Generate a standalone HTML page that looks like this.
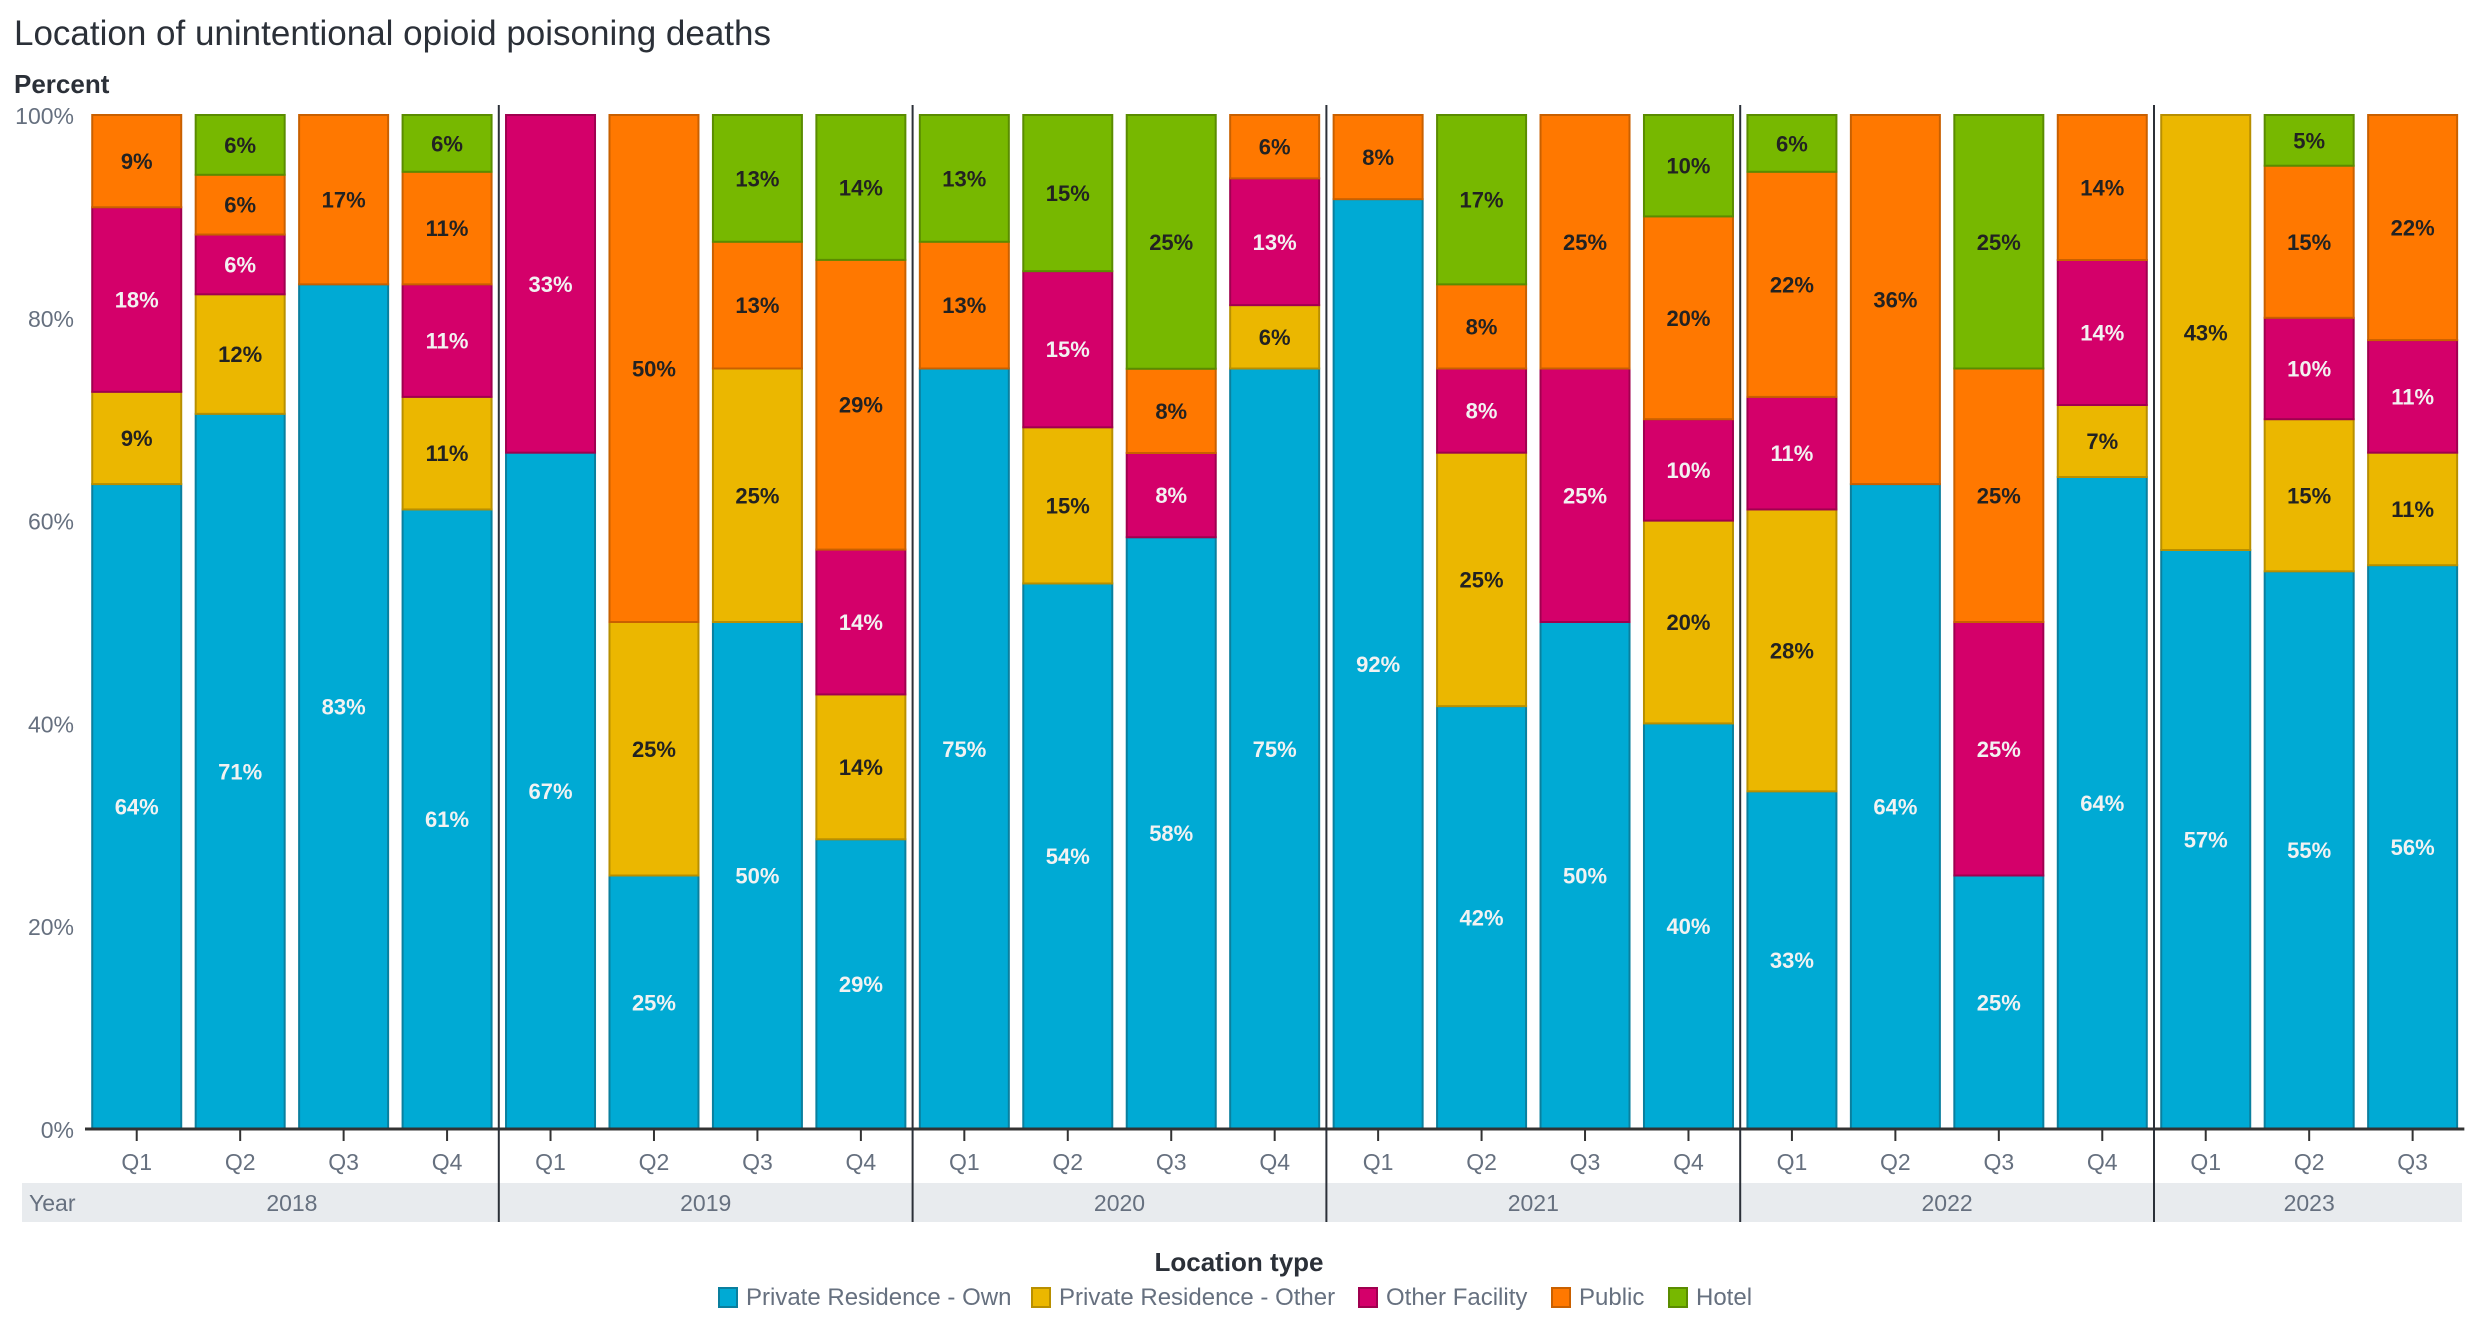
<!DOCTYPE html>
<html><head><meta charset="utf-8"><style>
html,body{margin:0;padding:0;background:#fff;}
svg{display:block;font-family:"Liberation Sans",sans-serif;}
</style></head><body>
<svg id="chart" width="2478" height="1334" viewBox="0 0 2478 1334">
<text x="14" y="45" font-size="35" fill="#2b3038">Location of unintentional opioid poisoning deaths</text>
<text x="14" y="93" font-size="26" font-weight="bold" fill="#2b3038">Percent</text>
<rect x="22" y="1183" width="2440" height="39" fill="#e8ebee"/>
<text x="29" y="1211" font-size="23" fill="#66707f">Year</text>
<g id="bars"></g>
<g id="axes"></g>
<text x="1239" y="1271" font-size="26" font-weight="bold" fill="#2b3038" text-anchor="middle">Location type</text>
<g id="legend"></g>
</svg>
<script>
const quarters = ["Q1","Q2","Q3","Q4","Q1","Q2","Q3","Q4","Q1","Q2","Q3","Q4","Q1","Q2","Q3","Q4","Q1","Q2","Q3","Q4","Q1","Q2","Q3"];
const years = ["2018","2019","2020","2021","2022","2023"];
const yearStart = [0,4,8,12,16,20];
const seriesNames = ["Private Residence - Own","Private Residence - Other","Other Facility","Public","Hotel"];
const ownRes = [63.6,70.6,83.3,61.1,66.7,25,50,28.6,75,53.8,58.3,75,91.7,41.7,50,40,33.3,63.6,25,64.3,57.1,55,55.6];
const otherRes = [9.1,11.8,0,11.1,0,25,25,14.3,0,15.4,0,6.25,0,25,0,20,27.8,0,0,7.1,42.9,15,11.1];
const otherFacility = [18.2,5.9,0,11.1,33.3,0,0,14.3,0,15.4,8.3,12.5,0,8.3,25,10,11.1,0,25,14.3,0,10,11.1];
const publicLoc = [9.1,5.9,16.7,11.1,0,50,12.5,28.6,12.5,0,8.3,6.25,8.3,8.3,25,20,22.2,36.4,25,14.3,0,15,22.2];
const hotel = [0,5.9,0,5.6,0,0,12.5,14.3,12.5,15.4,25,0,0,16.7,0,10,5.6,0,25,0,0,5,0];
const yTicks = [0,20,40,60,80,100];

const series=[ownRes,otherRes,otherFacility,publicLoc,hotel];
const fills=["#00aad4","#ebb700","#d4006a","#ff7800","#77b800"];
const strokes=["#0a7f9e","#b88f00","#a0004f","#c96000","#5a8c00"];
const labelCol=["#f2f2f2","#222","#f2f2f2","#222","#222"];
const NS="http://www.w3.org/2000/svg";
const X0=85,BAND=103.45,BW=89,Y0=1129,Y1=115;
const y=v=>Y0-(v/100)*(Y0-Y1);
const xc=i=>X0+BAND*(i+0.5);
function mk(tag,attrs,parent){const e=document.createElementNS(NS,tag);for(const k in attrs)e.setAttribute(k,attrs[k]);parent.appendChild(e);return e;}
const gb=document.getElementById('bars'),ga=document.getElementById('axes'),gl=document.getElementById('legend');
quarters.forEach((q,i)=>{
  let cum=0;
  const tot=series.reduce((a,s)=>a+s[i],0);
  series.forEach((s,k)=>{
    const v=s[i]; if(!v) return;
    const vn=v*100/tot;
    const top=y(cum+vn),bot=y(cum);
    const r=mk('rect',{x:xc(i)-BW/2,y:top,width:BW,height:bot-top,fill:fills[k],stroke:strokes[k],'stroke-width':2},gb);
    
    
    const t=mk('text',{x:xc(i),y:(top+bot)/2+8,'text-anchor':'middle','font-size':22,'font-weight':'bold',fill:labelCol[k]},gb);
    t.textContent=Math.round(v)+'%';
    
    
    cum+=vn;
  });
  const tk=mk('line',{x1:xc(i),x2:xc(i),y1:Y0,y2:Y0+12,stroke:'#333','stroke-width':2},ga);
  
  
  const ql=mk('text',{x:xc(i),y:Y0+41,'text-anchor':'middle','font-size':23,fill:'#66707f'},ga);
  ql.textContent=q;
  
  
});
yTicks.forEach(v=>{
  const t=mk('text',{x:74,y:y(v)+9,'text-anchor':'end','font-size':23,fill:'#66707f'},ga);
  t.textContent=v+'%';
  
  
});
const ax=mk('line',{x1:X0,x2:X0+BAND*quarters.length,y1:Y0,y2:Y0,stroke:'#333','stroke-width':3},ga);


years.forEach((yr,j)=>{
  const s=yearStart[j],e=(j+1<years.length?yearStart[j+1]:quarters.length);
  if(j>0){
    const d=mk('line',{x1:X0+BAND*s,x2:X0+BAND*s,y1:105,y2:1222,stroke:'#2b3038','stroke-width':2},ga);
    
    
  }
  const cx=X0+BAND*(s+e)/2;
  const t=mk('text',{x:cx,y:1211,'text-anchor':'middle','font-size':23,fill:'#66707f'},ga);
  t.textContent=yr;
  
  
});
const legX=[719,1032,1359,1552,1669];
seriesNames.forEach((n,k)=>{
  const g=mk('g',{},gl);
  
  
  mk('rect',{x:legX[k],y:1288,width:18,height:19,fill:fills[k],stroke:strokes[k],'stroke-width':2},g);
  const t=mk('text',{x:legX[k]+27,y:1305,'font-size':24,fill:'#66707f'},g);
  t.textContent=n;
});
</script>
</body></html>
